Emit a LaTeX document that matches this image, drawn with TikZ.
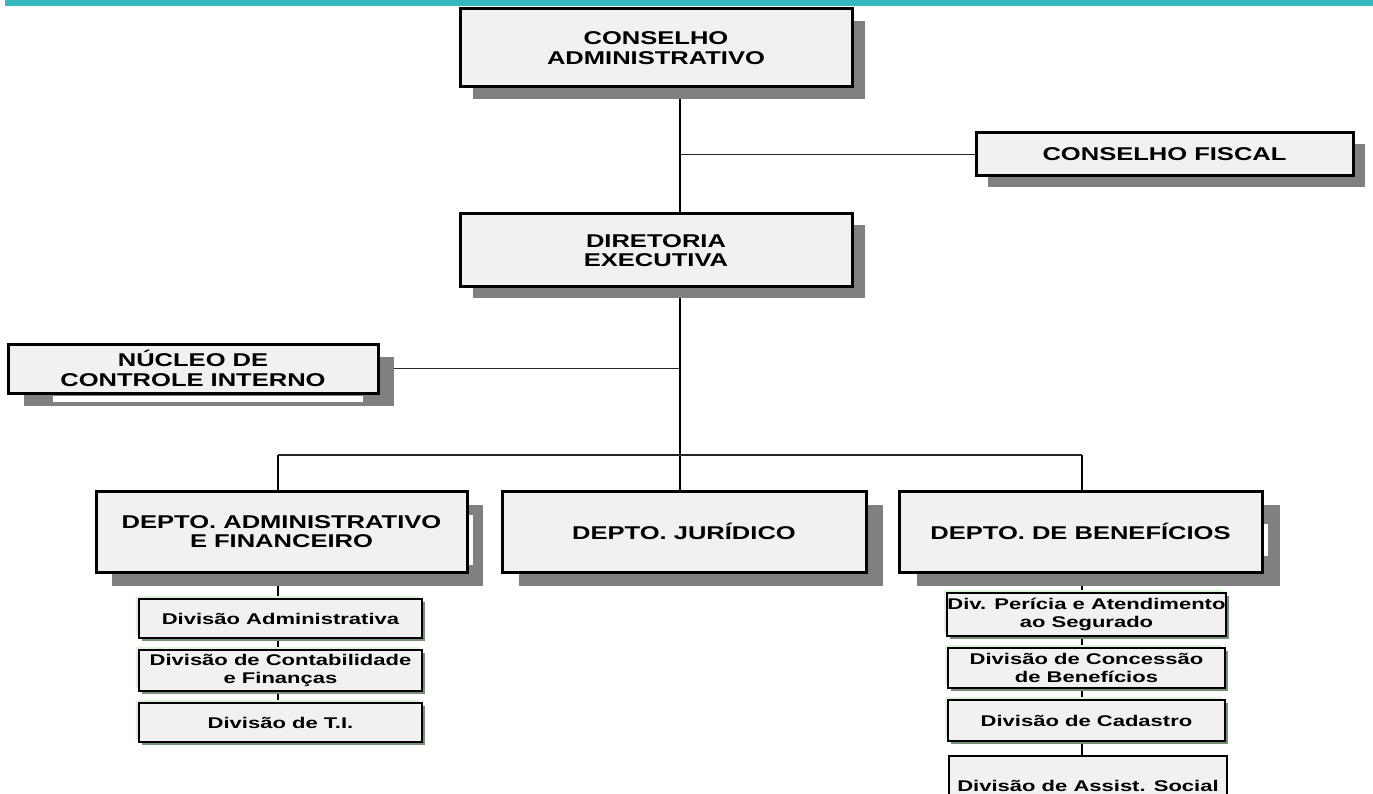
\documentclass[tikz,border=0pt]{standalone}
\usepackage{fontspec}
\newfontfamily\hfont{Liberation Sans}[FakeStretch=1.38]
\newfontfamily\dfont{Liberation Sans}[FakeStretch=1.42]
\usetikzlibrary{shadows,backgrounds}
\definecolor{teal1}{HTML}{38B8BE}
\definecolor{boxfill}{HTML}{F1F1F1}
\definecolor{shadowgray}{HTML}{808080}
\definecolor{greenshadow}{HTML}{769276}
\definecolor{greenglow}{HTML}{DDF3DA}
\tikzset{
  mainbox/.style={draw=black, line width=3pt, fill=boxfill, align=center, inner sep=1pt,
    font=\hfont\bfseries\fontsize{18.5}{19.5}\selectfont},
  mainshadow/.style 2 args={drop shadow={shadow xshift=#1, shadow yshift=#2, fill=shadowgray, opacity=1}},
  divbox/.style={draw=black, line width=2pt, fill=boxfill, align=center, inner sep=0pt,
    font=\dfont\bfseries\fontsize{15.5}{18}\selectfont},
  divshadow/.style={drop shadow={shadow xshift=3pt, shadow yshift=-3pt, fill=greenshadow, opacity=1},
    general shadow={shadow xshift=-3pt, shadow yshift=3pt, fill=greenglow, opacity=1}},
  conn/.style={draw=black, line width=1.6pt},
  hconn/.style={draw=black!85, line width=1.2pt},
  tick/.style={draw=black, line width=1.8pt}
}
\begin{document}
\begin{tikzpicture}[x=1pt,y=-1pt]
\clip (0,0) rectangle (1373,794);
\fill[teal1] (5,0) rectangle (1373,6);

% main boxes
\node[mainbox, mainshadow={13pt}{-12pt}, minimum width=392pt, minimum height=78pt] (ca) at (656,48) {CONSELHO\\ADMINISTRATIVO};
\node[mainbox, mainshadow={12pt}{-11pt}, minimum width=377pt, minimum height=43pt] (cf) at (1164.5,154.5) {CONSELHO FISCAL};
\node[mainbox, mainshadow={13pt}{-11pt}, minimum width=392pt, minimum height=73pt] (de) at (656,250.5) {DIRETORIA\\EXECUTIVA};
\node[mainbox, mainshadow={16pt}{-13pt}, minimum width=370pt, minimum height=49pt] (nci) at (193,368.5) {NÚCLEO DE\\CONTROLE INTERNO};
\node[mainbox, mainshadow={16pt}{-14pt}, minimum width=371pt, minimum height=81pt] (dad) at (281.5,531.5) {DEPTO. ADMINISTRATIVO\\E FINANCEIRO};
\node[mainbox, mainshadow={17pt}{-14pt}, minimum width=364pt, minimum height=81pt] (dju) at (684,531.5) {DEPTO. JURÍDICO};
\node[mainbox, mainshadow={18pt}{-14pt}, minimum width=363pt, minimum height=81pt] (dbe) at (1080.5,531.5) {DEPTO. DE BENEFÍCIOS};

% white strips inside shadows
\fill[white] (53,395.5) rectangle (363,402);
\fill[white] (469,515) rectangle (473,565);
\fill[white] (1264,524) rectangle (1268,556);

% divisions left
\node[divbox, divshadow, minimum width=283pt, minimum height=39pt] (dv1) at (280.5,618.5) {Divisão Administrativa};
\node[divbox, divshadow, minimum width=283pt, minimum height=41pt] (dv2) at (280.5,670.5) {Divisão de Contabilidade\\e Finanças};
\node[divbox, divshadow, minimum width=283pt, minimum height=39pt] (dv3) at (280.5,722.5) {Divisão de T.I.};

% divisions right
\node[divbox, divshadow, minimum width=277pt, minimum height=43pt] (dr1) at (1086.5,614.5) {Div. Perícia e Atendimento\\ao Segurado};
\node[divbox, divshadow, minimum width=277pt, minimum height=40pt] (dr2) at (1086.5,668) {Divisão de Concessão\\de Benefícios};
\node[divbox, divshadow, minimum width=277pt, minimum height=41pt] (dr3) at (1086.5,720.5) {Divisão de Cadastro};
\node[divbox, minimum width=278pt, minimum height=60pt] (dr4) at (1088,786) {Divisão de Assist. Social};

\coordinate (spine) at (680,0);
\coordinate (bl) at (278,455);
\coordinate (br) at (1082,455);

\begin{scope}[on background layer]
\draw[conn] (ca.south -| spine) -- (de.north -| spine);
\draw[hconn] (spine |- cf.west) -- (cf.west);
\draw[conn] (de.south -| spine) -- (dju.north -| spine);
\draw[hconn] (nci.east) -- (nci.east -| spine);
\draw[hconn] (bl) -- (br);
\draw[conn] (bl) -- (dad.north -| bl);
\draw[conn] (br) -- (dbe.north -| br);
\draw[tick] (dad.south -| bl) -- (dv1.north -| bl);
\draw[tick] (dv1.south -| bl) -- (dv2.north -| bl);
\draw[tick] (dv2.south -| bl) -- (dv3.north -| bl);
\draw[tick] (dbe.south -| br) -- (dr1.north -| br);
\draw[tick] (dr1.south -| br) -- (dr2.north -| br);
\draw[tick] (dr2.south -| br) -- (dr3.north -| br);
\draw[tick] (dr3.south -| br) -- (dr4.north -| br);
\end{scope}
\end{tikzpicture}
\end{document}
